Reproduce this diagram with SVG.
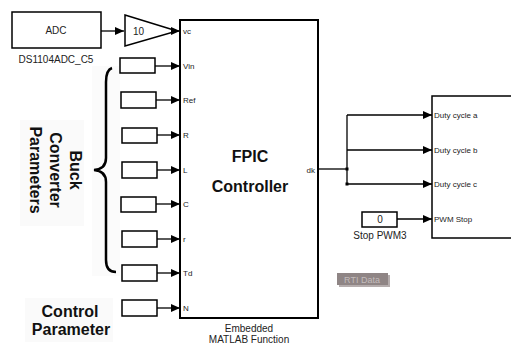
<svg xmlns="http://www.w3.org/2000/svg" width="511" height="347" viewBox="0 0 511 347">
<defs>
<marker id="ah" markerWidth="9" markerHeight="8" refX="9" refY="4" orient="auto" markerUnits="userSpaceOnUse">
<path d="M0,0 L9,4 L0,8 Z" fill="#000"/>
</marker>
<style>
.blk{fill:#fff;stroke:#000;stroke-width:1.5}
.big{fill:#fff;stroke:#000;stroke-width:2}
.ln{fill:none;stroke:#000;stroke-width:1.3}
.t{font-family:"Liberation Sans",Arial,sans-serif;fill:#000}
.s{font-size:8px;fill:#222}
.m{font-size:10px;fill:#222}
.b{font-size:16px;font-weight:bold;fill:#111}
</style>
</defs>
<rect width="511" height="347" fill="#fff"/>
<rect x="20" y="120" width="64" height="106" fill="#fafafa"/>
<rect x="25" y="298" width="88" height="44" fill="#fafafa"/>
<rect x="92" y="66" width="28" height="210" fill="#fbfbfb"/>

<g id="adc">
<rect class="blk" x="12" y="12" width="89" height="36"/>
<text class="t m" x="56" y="34" text-anchor="middle">ADC</text>
<text class="t m" x="56" y="63" text-anchor="middle">DS1104ADC_C5</text>
</g>
<g id="gain">
<path class="blk" d="M125,15 L177,31 L125,46 Z"/>
<text class="t m" x="133" y="35">10</text>
</g>
<g id="fpic">
<rect class="big" x="180" y="20" width="138" height="298"/>
<text class="t b" x="250" y="162" text-anchor="middle">FPIC</text>
<text class="t b" x="250" y="192" text-anchor="middle">Controller</text>
<text class="t s" x="183" y="34">vc</text>
<text class="t s" x="183" y="69">Vin</text>
<text class="t s" x="183" y="103">Ref</text>
<text class="t s" x="183" y="138">R</text>
<text class="t s" x="183" y="173">L</text>
<text class="t s" x="183" y="207">C</text>
<text class="t s" x="183" y="242">r</text>
<text class="t s" x="183" y="276">Td</text>
<text class="t s" x="183" y="311">N</text>
<text class="t s" x="315" y="173" text-anchor="end">dk</text>
<text class="t m" x="249" y="332" text-anchor="middle">Embedded</text>
<text class="t m" x="249" y="343" text-anchor="middle">MATLAB Function</text>
</g>
<g id="inputs">
<rect class="blk" x="120" y="58" width="35" height="15"/>
<rect class="blk" x="121" y="92" width="35" height="16"/>
<rect class="blk" x="122" y="128" width="35" height="15"/>
<rect class="blk" x="122" y="162" width="35" height="16"/>
<rect class="blk" x="121" y="197" width="35" height="15"/>
<rect class="blk" x="122" y="231" width="35" height="16"/>
<rect class="blk" x="122" y="265" width="35" height="16"/>
<rect class="blk" x="122" y="300" width="35" height="16"/>
</g>
<g id="pwm">
<rect class="blk" x="432" y="96" width="85" height="142"/>
<text class="t s" x="434" y="118">Duty cycle a</text>
<text class="t s" x="434" y="153">Duty cycle b</text>
<text class="t s" x="434" y="187">Duty cycle c</text>
<text class="t s" x="434" y="222">PWM Stop</text>
</g>
<g id="stop">
<rect class="blk" x="362" y="212" width="35" height="15"/>
<text class="t m" x="380" y="223" text-anchor="middle">0</text>
<text class="t m" x="380" y="239" text-anchor="middle">Stop PWM3</text>
</g>
<g id="rti">
<rect x="339" y="275" width="51" height="12" fill="#b5adad"/>
<rect x="337" y="273" width="51" height="12" fill="#8f8585"/>
<text x="362" y="283" text-anchor="middle" font-family="Liberation Sans, sans-serif" font-size="9" fill="#c4bcbc">RTI Data</text>
</g>
<g id="labels">
<text class="t b" transform="translate(70,170) rotate(90)" text-anchor="middle">Buck</text>
<text class="t b" transform="translate(50,170) rotate(90)" text-anchor="middle">Converter</text>
<text class="t b" transform="translate(30,170) rotate(90)" text-anchor="middle">Parameters</text>
<text class="t b" x="70" y="317" text-anchor="middle">Control</text>
<text class="t b" x="71" y="335" text-anchor="middle">Parameter</text>
<path d="M112,68 Q106,70 106,82 L106,158 Q106,169 94,170 Q106,171 106,182 L106,260 Q106,272 116,272" fill="none" stroke="#000" stroke-width="2.5"/>
</g>
<g id="connectors">
<path class="ln" d="M101,31 H124" marker-end="url(#ah)"/>
<path class="ln" d="M177,31 H180" marker-end="url(#ah)"/>
<path class="ln" d="M155,66 H180" marker-end="url(#ah)"/>
<path class="ln" d="M156,100 H180" marker-end="url(#ah)"/>
<path class="ln" d="M157,135 H180" marker-end="url(#ah)"/>
<path class="ln" d="M157,170 H180" marker-end="url(#ah)"/>
<path class="ln" d="M156,204 H180" marker-end="url(#ah)"/>
<path class="ln" d="M157,239 H180" marker-end="url(#ah)"/>
<path class="ln" d="M157,273 H180" marker-end="url(#ah)"/>
<path class="ln" d="M157,308 H180" marker-end="url(#ah)"/>
<path class="ln" d="M318,169 H347"/>
<path class="ln" d="M347,115 V184"/>
<path class="ln" d="M347,115 H432" marker-end="url(#ah)"/>
<path class="ln" d="M347,150 H432" marker-end="url(#ah)"/>
<path class="ln" d="M347,184 H432" marker-end="url(#ah)"/>
<path class="ln" d="M397,219 H432" marker-end="url(#ah)"/>
<rect x="345.5" y="167.5" width="3" height="3" fill="#000"/>
<rect x="345.5" y="182.5" width="3" height="3" fill="#000"/>
</g>
</svg>
